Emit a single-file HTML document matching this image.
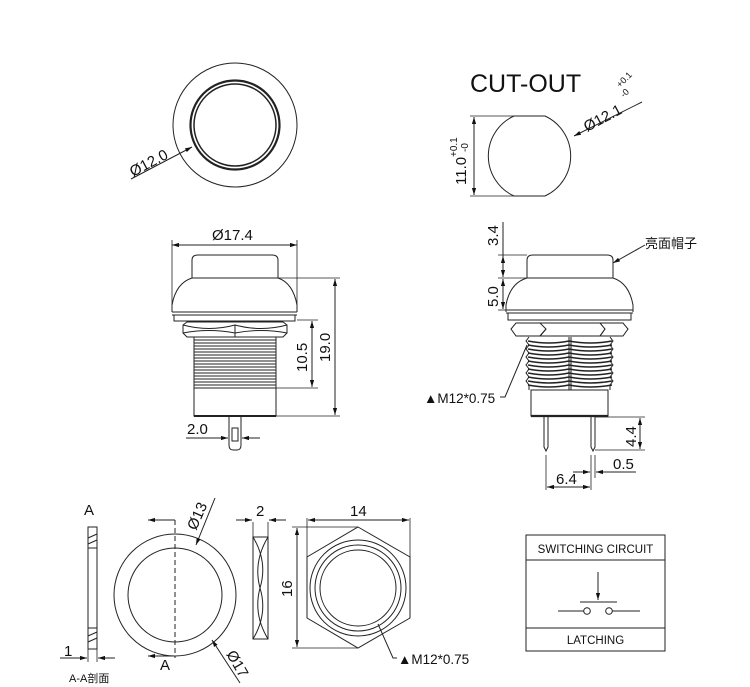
<!DOCTYPE html>
<html><head><meta charset="utf-8"><style>
html,body{margin:0;padding:0;background:#fff}
svg{display:block}
text{font-family:"Liberation Sans","Noto Sans CJK SC",sans-serif;fill:#111}
</style></head><body>
<svg width="750" height="687" viewBox="0 0 750 687" xmlns="http://www.w3.org/2000/svg">
<defs>
<marker id="a" viewBox="0 0 10 10" refX="10" refY="5" markerWidth="7" markerHeight="7" orient="auto-start-reverse"><path d="M0,2 L10,5 L0,8 z" fill="#111"/></marker>
</defs>
<g fill="none" stroke="#222" stroke-width="1">
<circle cx="235" cy="125" r="62"/>
<circle cx="235" cy="125" r="44.5" stroke-width="2.2"/>
<circle cx="235" cy="125" r="41" stroke-width="1.5"/>
<line x1="131" y1="179" x2="192" y2="147" marker-end="url(#a)"/>
<path d="M514,116 L545,116 A44,44 0 0 1 545,196 L514,196 A44,44 0 0 1 514,116 Z"/>
<line x1="470" y1="116" x2="514" y2="116" stroke-width="0.8"/>
<line x1="470" y1="196" x2="514" y2="196" stroke-width="0.8"/>
<line x1="474" y1="117" x2="474" y2="195" marker-start="url(#a)" marker-end="url(#a)"/>
<line x1="642" y1="102" x2="574" y2="136" marker-end="url(#a)"/>

<line x1="172" y1="245" x2="297" y2="245" marker-start="url(#a)" marker-end="url(#a)"/>
<line x1="172" y1="240" x2="172" y2="312" stroke-width="0.8"/>
<line x1="297" y1="240" x2="297" y2="312" stroke-width="0.8"/>
<path d="M192,278 L192,260 Q192,255 198,255 L272,255 Q278,255 278,260 L278,278"/>
<path d="M172,312 L172,305 Q176,283 192,278 L278,278 Q293,283 297,305 L297,312"/>
<line x1="172" y1="312" x2="297" y2="312"/>
<line x1="172" y1="315" x2="297" y2="315"/>
<path d="M174,315 L174,321 L295,321 L295,315"/>
<path d="M183,325 L187,322 L283,322 L287,325 L287,333 L283,337 L187,337 L183,333 Z"/>
<path d="M183,325 Q209,332 235,325 Q261,332 287,325 M235,325 L235,337 M183,333 Q209,328 235,333 Q261,328 287,333"/>
<rect x="194" y="337" width="82" height="51"/>
<g stroke-width="0.9">
<line x1="194" y1="340" x2="276" y2="340"/><line x1="194" y1="343" x2="276" y2="343"/><line x1="194" y1="346" x2="276" y2="346"/><line x1="194" y1="349" x2="276" y2="349"/><line x1="194" y1="352" x2="276" y2="352"/><line x1="194" y1="355" x2="276" y2="355"/><line x1="194" y1="358" x2="276" y2="358"/><line x1="194" y1="361" x2="276" y2="361"/><line x1="194" y1="364" x2="276" y2="364"/><line x1="194" y1="367" x2="276" y2="367"/><line x1="194" y1="370" x2="276" y2="370"/><line x1="194" y1="373" x2="276" y2="373"/><line x1="194" y1="376" x2="276" y2="376"/><line x1="194" y1="379" x2="276" y2="379"/><line x1="194" y1="382" x2="276" y2="382"/><line x1="194" y1="385" x2="276" y2="385"/>
</g>
<rect x="194" y="388" width="82" height="28"/>
<line x1="194" y1="416" x2="276" y2="416" stroke-width="2"/>
<path d="M229,417 L229,445 Q229,450 233,450 L237,450 Q241,450 241,445 L241,417"/>
<rect x="232" y="428" width="6" height="13"/>
<line x1="276" y1="388" x2="318" y2="388" stroke-width="0.8"/>
<line x1="297" y1="320" x2="318" y2="320" stroke-width="0.8"/>
<line x1="278" y1="278" x2="340" y2="278" stroke-width="0.8"/>
<line x1="276" y1="416" x2="340" y2="416" stroke-width="0.8"/>
<line x1="312" y1="321" x2="312" y2="387" marker-start="url(#a)" marker-end="url(#a)"/>
<line x1="335" y1="279" x2="335" y2="415" marker-start="url(#a)" marker-end="url(#a)"/>
<line x1="186" y1="438" x2="228" y2="438" marker-end="url(#a)"/>
<line x1="260" y1="438" x2="242" y2="438" marker-end="url(#a)"/>

<path d="M527,278 L527,260 Q527,255 533,255 L607,255 Q613,255 613,260 L613,278"/>
<path d="M506,312 L506,305 Q510,283 527,278 L613,278 Q629,283 633,305 L633,312"/>
<line x1="506" y1="310" x2="633" y2="310"/>
<line x1="506" y1="313" x2="633" y2="313"/>
<path d="M508,313 L508,320 L631,320 L631,313"/>
<path d="M516,323 L540,323 L546,329 L540,336 L516,336 L511,329 Z"/>
<path d="M540,323 L600,323 L605,329 L600,336 L540,336 L546,329"/>
<path d="M600,323 L623,323 L628,329 L623,336 L600,336 L605,329"/>
<path d="M529,337 L526,341 L529,345 L526,349 L529,353 L526,357 L529,361 L526,365 L529,369 L526,373 L529,377 L526,381 L529,385 L529,390 M610,337 L613,341 L610,345 L613,349 L610,353 L613,357 L610,361 L613,365 L610,369 L613,373 L610,377 L613,381 L610,385 L610,390"/>
<g stroke-width="1.6">
<path d="M528,341 Q549,345 569,341 Q590,345 612,341"/><path d="M528,345 Q549,349 569,345 Q590,349 612,345"/>
<path d="M528,349 Q549,353 569,349 Q590,353 612,349"/><path d="M528,353 Q549,357 569,353 Q590,357 612,353"/>
<path d="M528,357 Q549,361 569,357 Q590,361 612,357"/><path d="M528,361 Q549,365 569,361 Q590,365 612,361"/>
<path d="M528,365 Q549,369 569,365 Q590,369 612,365"/><path d="M528,369 Q549,373 569,369 Q590,373 612,369"/>
<path d="M528,373 Q549,377 569,373 Q590,377 612,373"/><path d="M528,377 Q549,381 569,377 Q590,381 612,377"/>
<path d="M528,381 Q549,385 569,381 Q590,385 612,381"/><path d="M528,385 Q549,389 569,385 Q590,389 612,385"/>
</g>
<line x1="569" y1="337" x2="569" y2="390"/><line x1="571" y1="337" x2="571" y2="390"/>
<rect x="531" y="390" width="77" height="26"/>
<line x1="531" y1="416" x2="608" y2="416" stroke-width="2.2"/>
<path d="M544,417 L544,447 L546,451 L548,447 L548,417"/>
<path d="M591,417 L591,447 L593,451 L595,447 L595,417"/>
<line x1="498" y1="255" x2="527" y2="255" stroke-width="0.8"/>
<line x1="498" y1="278" x2="527" y2="278" stroke-width="0.8"/>
<line x1="498" y1="310" x2="506" y2="310" stroke-width="0.8"/>
<line x1="503" y1="222" x2="503" y2="277" marker-end="url(#a)"/>
<line x1="503" y1="256" x2="503" y2="260" marker-start="url(#a)"/>
<line x1="503" y1="279" x2="503" y2="309" marker-start="url(#a)" marker-end="url(#a)"/>
<line x1="595" y1="417" x2="645" y2="417" stroke-width="0.8"/>
<line x1="595" y1="450" x2="645" y2="450" stroke-width="0.8"/>
<line x1="640" y1="418" x2="640" y2="449" marker-start="url(#a)" marker-end="url(#a)"/>
<line x1="546" y1="455" x2="546" y2="490" stroke-width="0.8"/>
<line x1="591" y1="455" x2="591" y2="490" stroke-width="0.8"/>
<line x1="595" y1="455" x2="595" y2="478" stroke-width="0.8"/>
<line x1="573" y1="472" x2="590" y2="472" marker-end="url(#a)"/>
<line x1="636" y1="472" x2="596" y2="472" marker-end="url(#a)"/>
<line x1="547" y1="487" x2="590" y2="487" marker-start="url(#a)" marker-end="url(#a)"/>
<polyline points="500,397 505,397 527,345"/>
<line x1="645" y1="245" x2="613" y2="263" marker-end="url(#a)"/>

<rect x="88" y="527" width="9" height="122"/>
<path d="M88,538 L97,534 M88,544 L97,540 M88,636 L97,632 M88,642 L97,638 M88,548 L97,548 M88,628 L97,628"/>
<line x1="60" y1="658" x2="87" y2="658" marker-end="url(#a)"/>
<line x1="115" y1="658" x2="98" y2="658" marker-end="url(#a)"/>
<line x1="88" y1="649" x2="88" y2="662" stroke-width="0.8"/>
<line x1="97" y1="649" x2="97" y2="662" stroke-width="0.8"/>
<circle cx="175" cy="595" r="61"/>
<circle cx="175" cy="595" r="47"/>
<line x1="175" y1="520" x2="175" y2="658" stroke-dasharray="5,3"/>
<line x1="175" y1="520" x2="148" y2="520" marker-end="url(#a)"/>
<line x1="175" y1="656" x2="148" y2="656" marker-end="url(#a)"/>
<line x1="215" y1="498" x2="196" y2="545" marker-end="url(#a)"/>
<line x1="240" y1="683" x2="212" y2="640" marker-end="url(#a)"/>
<rect x="253" y="537" width="15" height="102"/>
<path d="M253,537 Q268,562 260,588 Q253,614 268,639 M268,537 Q253,562 260,588 Q268,614 253,639"/>
<line x1="253" y1="522" x2="253" y2="537" stroke-width="0.8"/>
<line x1="268" y1="522" x2="268" y2="537" stroke-width="0.8"/>
<line x1="236" y1="520" x2="252" y2="520" marker-end="url(#a)"/>
<line x1="286" y1="520" x2="269" y2="520" marker-end="url(#a)"/>
<polygon points="358,527 410,557 410,618 358,648 307,618 307,557"/>
<circle cx="358" cy="588" r="48"/>
<circle cx="358" cy="588" r="43"/>
<circle cx="358" cy="588" r="38"/>
<line x1="307" y1="518" x2="307" y2="557" stroke-width="0.8"/>
<line x1="410" y1="518" x2="410" y2="557" stroke-width="0.8"/>
<line x1="308" y1="520" x2="409" y2="520" marker-start="url(#a)" marker-end="url(#a)"/>
<line x1="292" y1="527" x2="358" y2="527" stroke-width="0.8"/>
<line x1="292" y1="648" x2="358" y2="648" stroke-width="0.8"/>
<line x1="297" y1="528" x2="297" y2="647" marker-start="url(#a)" marker-end="url(#a)"/>
<polyline points="378,624 393,658 397,658"/>

<rect x="526" y="535" width="139" height="116"/>
<line x1="526" y1="560" x2="665" y2="560"/>
<line x1="526" y1="628" x2="665" y2="628"/>
<line x1="598" y1="572" x2="598" y2="600" marker-end="url(#a)"/>
<line x1="580" y1="602" x2="617" y2="602"/>
<circle cx="587" cy="611" r="3.3"/>
<circle cx="609" cy="611" r="3.3"/>
<line x1="558" y1="611" x2="583.7" y2="611"/>
<line x1="612.3" y1="611" x2="640" y2="611"/>
</g>

<text font-size="15" transform="translate(133,177) rotate(-28)">Ø12.0</text>
<text x="470" y="92" font-size="25">CUT-OUT</text>
<text font-size="15" transform="translate(587,132) rotate(-28)">Ø12.1</text>
<text font-size="9" transform="translate(620,88) rotate(-45)">+0.1</text>
<text font-size="9" transform="translate(624,98) rotate(-45)">-0</text>
<text font-size="15" transform="translate(466,185) rotate(-90)">11.0</text>
<text font-size="10" transform="translate(457,157) rotate(-90)">+0.1</text>
<text font-size="10" transform="translate(468,152) rotate(-90)">-0</text>
<text x="212" y="240" font-size="15">Ø17.4</text>
<text font-size="15" transform="translate(307,372) rotate(-90)">10.5</text>
<text font-size="15" transform="translate(330,362) rotate(-90)">19.0</text>
<text x="187" y="434" font-size="15">2.0</text>
<text font-size="15" transform="translate(498,246) rotate(-90)">3.4</text>
<text font-size="15" transform="translate(498,307) rotate(-90)">5.0</text>
<text x="645" y="248" font-size="13">亮面帽子</text>
<text x="424" y="403" font-size="13.5">▲M12*0.75</text>
<text font-size="15" transform="translate(636,447) rotate(-90)">4.4</text>
<text x="613" y="469" font-size="15">0.5</text>
<text x="556" y="484" font-size="15">6.4</text>
<text x="84" y="515" font-size="15">A</text>
<text x="160" y="670" font-size="15">A</text>
<text x="64" y="656" font-size="15">1</text>
<text x="69" y="682" font-size="11">A-A剖面</text>
<text font-size="15" transform="translate(196,531) rotate(-66)">Ø13</text>
<text font-size="15" transform="translate(226,654) rotate(60)">Ø17</text>
<text x="256" y="516" font-size="15">2</text>
<text x="350" y="516" font-size="15">14</text>
<text font-size="15" transform="translate(292,597) rotate(-90)">16</text>
<text x="398" y="664" font-size="13.5">▲M12*0.75</text>
<text x="595.5" y="553" font-size="11.5" text-anchor="middle">SWITCHING CIRCUIT</text>
<text x="595.5" y="644" font-size="11.5" text-anchor="middle">LATCHING</text>
</svg>
</body></html>
